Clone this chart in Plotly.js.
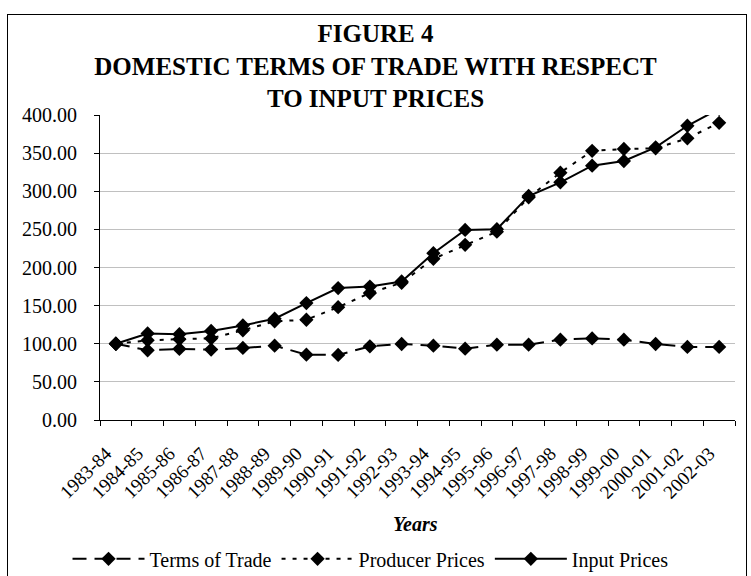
<!DOCTYPE html>
<html>
<head>
<meta charset="utf-8">
<script src="https://cdn.plot.ly/plotly-3.0.1.min.js"></script>
<style>
html,body{margin:0;padding:0;background:#fff;}
#wrap{position:relative;width:751px;height:576px;overflow:hidden;}
#chart{width:751px;height:576px;}
#frame{position:absolute;left:7px;top:14px;width:740px;height:570px;border:1.5px solid #000;pointer-events:none;box-sizing:border-box;}
</style>
</head>
<body>
<div id="wrap"><div id="chart"></div><div id="frame"></div></div>
<script>
var years = ["1983-84","1984-85","1985-86","1986-87","1987-88","1988-89","1989-90","1990-91","1991-92","1992-93","1993-94","1994-95","1995-96","1996-97","1997-98","1998-99","1999-00","2000-01","2001-02","2002-03"];
var termsOfTrade = [100, 91.4, 93.2, 92.3, 94.5, 97.5, 85.7, 85.3, 96.6, 99.7, 97.5, 93.6, 98.8, 98.8, 105.4, 107, 105.4, 99.7, 95.8, 95.8];
var producerPrices = [100, 104.5, 106, 107, 117.6, 129.4, 131.5, 148, 166.5, 180, 211.4, 229.7, 247, 292, 324.4, 353, 355.4, 356.3, 369.4, 389.8];
var inputPrices = [100, 113.5, 112.5, 116.7, 124, 132.8, 153.4, 173, 175, 181.7, 218.8, 249.3, 250.2, 293.8, 311.7, 333.5, 339.7, 357.6, 385.9, 408];

var font = "Liberation Serif, Times New Roman, serif";
var mk = {symbol:'diamond', size:11, color:'#000'};
var traces = [
  {x:years, y:termsOfTrade, name:'Terms of Trade', type:'scatter', mode:'lines+markers',
   line:{color:'#000', width:2, dash:'14px,8px'}, marker:mk},
  {x:years, y:producerPrices, name:'Producer Prices', type:'scatter', mode:'lines+markers',
   line:{color:'#000', width:2, dash:'4px,7px'}, marker:mk},
  {x:years, y:inputPrices, name:'Input Prices', type:'scatter', mode:'lines+markers',
   line:{color:'#000', width:2}, marker:mk}
];
var layout = {
  width:751, height:576,
  margin:{l:100, r:16, t:115, b:156, autoexpand:false},
  paper_bgcolor:'#fff', plot_bgcolor:'#fff',
  font:{family:font, color:'#000', size:19},
  title:{text:'<b>FIGURE 4<br>DOMESTIC TERMS OF TRADE WITH RESPECT<br>TO INPUT PRICES</b>',
         font:{family:font, size:25, color:'#000'}, x:0.5, xanchor:'center', y:0.927, yanchor:'top'},
  xaxis:{type:'category', range:[-0.5, 19.5], autorange:false, showline:true, linecolor:'#000', linewidth:1,
         ticks:'outside', ticklen:5, tickcolor:'#000', tickson:'boundaries',
         tickangle:-45, showgrid:false, zeroline:false, ticklabelstandoff:14, ticklabelshift:-10,
         tickfont:{family:font, size:19, color:'#000'}},
  yaxis:{range:[0,400], autorange:false, dtick:50, tickformat:'.2f', showline:true, linecolor:'#000', linewidth:1,
         ticks:'outside', ticklen:5, tickcolor:'#000', gridcolor:'#c0c0c0', gridwidth:1,
         zeroline:false, ticklabelstandoff:13, tickfont:{family:font, size:20, color:'#000'}},
  showlegend:true,
  legend:{orientation:'h', x:0.426, xanchor:'center', y:-0.455, yanchor:'middle', itemwidth:72,
          font:{family:font, size:20, color:'#000'}, bgcolor:'rgba(0,0,0,0)'},
  annotations:[{text:'<b><i>Years</i></b>', xref:'paper', yref:'paper', x:0.497, y:-0.34,
                xanchor:'center', yanchor:'middle', showarrow:false,
                font:{family:font, size:20, color:'#000'}}]
};
Plotly.newPlot('chart', traces, layout, {displayModeBar:false, staticPlot:true});
</script>
</body>
</html>
